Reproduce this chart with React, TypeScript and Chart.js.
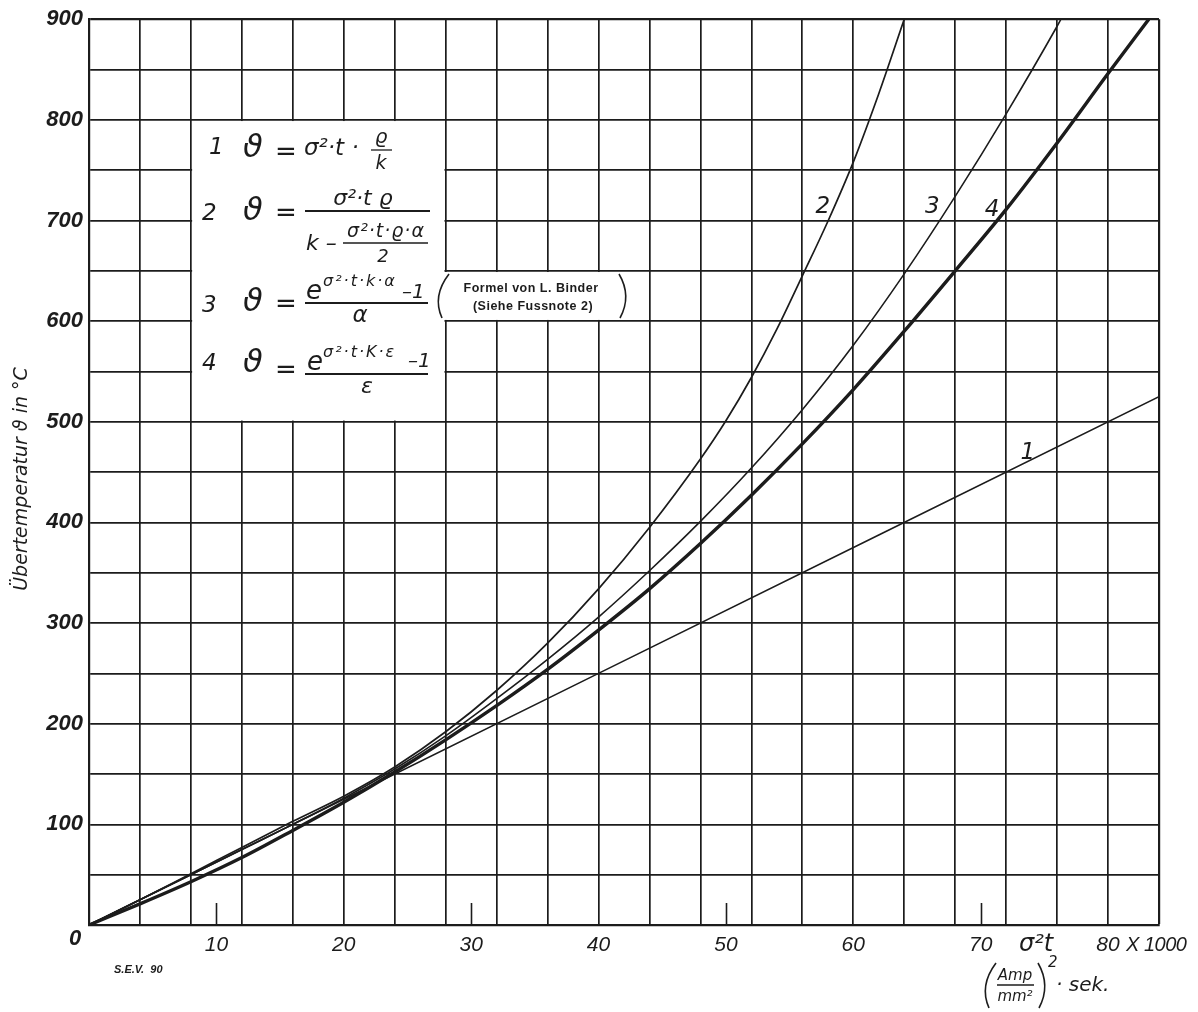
import React, { useEffect, useRef } from 'react';
import { Chart, registerables } from 'chart.js';

Chart.register(...registerables);

// ---- data (x in 1000 (A/mm²)²·s, y in °C) ----
const curve1X = [0, 40, 84];
const curve1Y = [0, 250, 525];

const curve2X = [0, 4, 8, 12, 16, 20, 24, 28, 32, 36, 40, 44, 48, 50, 52, 54, 56, 58, 60, 62, 64];
const curve2Y = [0, 25, 51, 77, 103, 128, 157, 192, 233, 280, 334, 395, 463, 501, 544, 592, 645, 699, 758, 826, 900];

const curve3X = [0, 4, 8, 12, 16, 20, 24, 28, 32, 36, 40, 44, 48, 52, 56, 60, 64, 68, 72, 76, 76.3];
const curve3Y = [0, 25, 50, 75, 100, 126, 155, 188, 225, 264, 306, 352, 401, 454, 512, 576, 647, 724, 806, 893, 900];

const curve4X = [0, 4, 8, 12, 16, 20, 24, 28, 32, 36, 40, 44, 48, 52, 56, 60, 64, 68, 72, 76, 80, 83.2];
const curve4Y = [0, 21, 43, 67, 94, 122, 152, 184, 218, 254, 293, 334, 379, 427, 478, 532, 590, 650, 711, 777, 846, 900];

const curveLabels = ['1', '2', '3', '4'];
const curveLabelX = [73.7, 57.6, 66.2, 70.9];
const curveLabelY = [473, 717, 717, 714];

const xMin = 0;
const xMax = 84;
const xGridStep = 4;
const xTickLabels = [10, 20, 30, 40, 50, 60, 70, 80];
const yMin = 0;
const yMax = 900;
const yGridStep = 50;
const yTickLabels = [100, 200, 300, 400, 500, 600, 700, 800, 900];

const INK = '#1c1c1c';
const SANS = '"Liberation Sans", Arial, sans-serif';
const DJ = '"DejaVu Sans", sans-serif';

const toPts = (xs: number[], ys: number[]) => xs.map((x, i) => ({ x, y: ys[i] }));

function txt(ctx: CanvasRenderingContext2D, s: string, x: number, y: number, font: string, align: CanvasTextAlign = 'left', spacing = 0) {
  ctx.font = font;
  ctx.textAlign = align;
  ctx.textBaseline = 'alphabetic';
  (ctx as any).letterSpacing = spacing + 'px';
  ctx.fillText(s, x, y);
  (ctx as any).letterSpacing = '0px';
}

function hline(ctx: CanvasRenderingContext2D, x1: number, x2: number, y: number, w = 1.6) {
  ctx.beginPath();
  ctx.lineWidth = w;
  ctx.moveTo(x1, y);
  ctx.lineTo(x2, y);
  ctx.stroke();
}

function paren(ctx: CanvasRenderingContext2D, x: number, top: number, bottom: number, dir: number, w = 1.6) {
  // dir = -1 for "(" , +1 for ")"
  ctx.beginPath();
  ctx.lineWidth = w;
  ctx.moveTo(x + 3 * dir * -1 + (dir > 0 ? 0 : 6), top);
  ctx.quadraticCurveTo(x + 7 * dir + (dir > 0 ? 3 : -1), (top + bottom) / 2, x + (dir > 0 ? -2 : 2), bottom);
  ctx.stroke();
}

const overlayPlugin = {
  id: 'overlay',
  beforeDatasetsDraw(chart: any) {
    const ctx = chart.ctx as CanvasRenderingContext2D;
    const xs = chart.scales.x;
    const ys = chart.scales.y;
    ctx.save();
    ctx.fillStyle = '#ffffff';
    // formula box (grid removed inside)
    const l = xs.getPixelForValue(8) + 1.2;
    const r = xs.getPixelForValue(28) - 1.2;
    const t = ys.getPixelForValue(800) + 1.2;
    const b = ys.getPixelForValue(500) - 1.2;
    ctx.fillRect(l, t, r - l, b - t);
    // band for the Binder note
    const l2 = xs.getPixelForValue(28) - 1.5;
    const r2 = xs.getPixelForValue(44) - 1.5;
    const t2 = ys.getPixelForValue(650) + 1.2;
    const b2 = ys.getPixelForValue(600) - 1.2;
    ctx.fillRect(l2, t2, r2 - l2, b2 - t2);
    ctx.restore();
  },
  afterDatasetsDraw(chart: any) {
    const ctx = chart.ctx as CanvasRenderingContext2D;
    const xs = chart.scales.x;
    const ys = chart.scales.y;
    const area = chart.chartArea;
    ctx.save();
    ctx.strokeStyle = INK;
    ctx.fillStyle = INK;
    // inner ticks at labelled values not on the grid
    xTickLabels.forEach((v) => {
      if (v % xGridStep !== 0) {
        const px = Math.round(xs.getPixelForValue(v)) + 0.5;
        ctx.beginPath();
        ctx.lineWidth = 1.6;
        ctx.moveTo(px, area.bottom - 22);
        ctx.lineTo(px, area.bottom);
        ctx.stroke();
      }
    });
    // curve numbers
    curveLabels.forEach((s, i) => {
      txt(ctx, s, xs.getPixelForValue(curveLabelX[i]), ys.getPixelForValue(curveLabelY[i]) + 10, `italic 23px ${DJ}`, 'center');
    });

    // ---- formulas ----
    const num = `italic 23px ${DJ}`;
    const theta = `italic 32px ${DJ}`;
    const eq = `26px ${DJ}`;
    // row 1
    txt(ctx, '1', 209, 154, num);
    txt(ctx, 'ϑ', 243, 157, theta);
    txt(ctx, '=', 275, 160, eq);
    txt(ctx, 'σ²·t ·', 304, 155, `italic 23px ${DJ}`);
    txt(ctx, 'ϱ', 381, 143, `italic 20px ${DJ}`, 'center');
    hline(ctx, 371, 392, 150, 1.3);
    txt(ctx, 'k', 381, 169, `italic 19px ${DJ}`, 'center');
    // row 2
    txt(ctx, '2', 202, 220, num);
    txt(ctx, 'ϑ', 243, 220, theta);
    txt(ctx, '=', 275, 221, eq);
    txt(ctx, 'σ²·t ϱ', 363, 205, `italic 22px ${DJ}`, 'center');
    hline(ctx, 305, 430, 211, 1.8);
    txt(ctx, 'k –', 306, 250, `italic 22px ${DJ}`);
    txt(ctx, 'σ²·t·ϱ·α', 386, 237, `italic 19px ${DJ}`, 'center', 1);
    hline(ctx, 343, 428, 243, 1.5);
    txt(ctx, '2', 383, 262, `italic 18px ${DJ}`, 'center');
    // row 3
    txt(ctx, '3', 202, 312, num);
    txt(ctx, 'ϑ', 243, 311, theta);
    txt(ctx, '=', 275, 312, eq);
    txt(ctx, 'e', 306, 299, `italic 26px ${DJ}`);
    txt(ctx, 'σ²·t·k·α', 323, 286, `italic 16px ${DJ}`, 'left', 2);
    txt(ctx, '–1', 402, 298, `italic 20px ${DJ}`);
    hline(ctx, 305, 428, 303, 1.8);
    txt(ctx, 'α', 360, 322, `italic 23px ${DJ}`, 'center');
    // Binder note
    paren(ctx, 440, 274, 318, -1);
    paren(ctx, 622, 274, 318, 1);
    txt(ctx, 'Formel von L. Binder', 531, 292, `bold 12.5px ${SANS}`, 'center', 0.5);
    txt(ctx, '(Siehe Fussnote 2)', 533, 310, `bold 12.5px ${SANS}`, 'center', 0.5);
    // row 4
    txt(ctx, '4', 202, 370, num);
    txt(ctx, 'ϑ', 243, 372, theta);
    txt(ctx, '=', 275, 378, eq);
    txt(ctx, 'e', 307, 370, `italic 26px ${DJ}`);
    txt(ctx, 'σ²·t·K·ε', 323, 357, `italic 16px ${DJ}`, 'left', 2);
    txt(ctx, '–1', 408, 367, `italic 20px ${DJ}`);
    hline(ctx, 305, 428, 374, 1.8);
    txt(ctx, 'ε', 367, 393, `italic 22px ${DJ}`, 'center');

    // ---- axis extras ----
    txt(ctx, '0', area.left - 14, area.bottom + 20, `bold italic 22px ${SANS}`, 'center');
    txt(ctx, 'σ²t', 1019, 951, `italic 24px ${DJ}`);
    txt(ctx, 'X 1000', 1126, 951, `italic 20px ${SANS}`, 'left', -0.5);
    // units (Amp/mm²)² · sek.
    paren(ctx, 987, 963, 1008, -1);
    txt(ctx, 'Amp', 1015, 980, `italic 15px ${DJ}`, 'center');
    hline(ctx, 997, 1034, 985, 1.3);
    txt(ctx, 'mm²', 1015, 1001, `italic 15px ${DJ}`, 'center');
    paren(ctx, 1041, 963, 1008, 1);
    txt(ctx, '2', 1048, 967, `italic 15px ${DJ}`);
    txt(ctx, '· sek.', 1056, 991, `italic 20px ${DJ}`);
    // S.E.V. 90
    txt(ctx, 'S.E.V.  90', 114, 973, `bold italic 11px ${SANS}`);
    // y axis title
    ctx.save();
    ctx.translate(20, 479);
    ctx.rotate(-Math.PI / 2);
    txt(ctx, 'Übertemperatur ϑ in °C', 0, 7, `italic 19px ${DJ}`, 'center');
    ctx.restore();
    ctx.restore();
  },
};

export default function App() {
  const ref = useRef<HTMLCanvasElement | null>(null);
  useEffect(() => {
    document.body.style.margin = '0';
    document.body.style.overflow = 'hidden';
    const canvas = ref.current;
    if (!canvas) return;
    const line = (label: string, xs: number[], ys: number[], w: number) => ({
      label,
      data: toPts(xs, ys),
      showLine: true,
      borderColor: INK,
      backgroundColor: INK,
      borderWidth: w,
      pointRadius: 0,
      fill: false,
      cubicInterpolationMode: 'monotone' as const,
    });
    const chart = new Chart(canvas, {
      type: 'scatter',
      data: {
        datasets: [
          line('1', curve1X, curve1Y, 1.6),
          line('2', curve2X, curve2Y, 1.7),
          line('3', curve3X, curve3Y, 1.6),
          line('4', curve4X, curve4Y, 3.4),
        ],
      },
      options: {
        responsive: false,
        animation: false,
        events: [],
        layout: { padding: { top: 15, right: 39, left: 0, bottom: 0 } },
        plugins: { legend: { display: false }, tooltip: { enabled: false } },
        scales: {
          x: {
            type: 'linear',
            min: xMin,
            max: xMax,
            afterBuildTicks: (scale: any) => {
              const vals = new Set<number>();
              for (let v = xMin; v <= xMax; v += xGridStep) vals.add(v);
              xTickLabels.forEach((v) => vals.add(v));
              scale.ticks = Array.from(vals).sort((a, b) => a - b).map((value) => ({ value }));
            },
            afterFit: (scale: any) => { scale.height = 87; },
            grid: {
              color: (c: any) => (c.tick && c.tick.value % xGridStep === 0 ? INK : 'rgba(0,0,0,0)'),
              lineWidth: (c: any) => (c.tick && (c.tick.value === xMax) ? 2.2 : 1.7),
              drawTicks: false,
            },
            border: { display: true, color: INK, width: 2.2 },
            ticks: {
              autoSkip: false,
              maxRotation: 0,
              padding: 8,
              color: INK,
              font: { family: SANS, size: 21, style: 'italic' },
              callback: (v: any) => (xTickLabels.includes(Number(v)) ? String(v) : ''),
            },
          },
          y: {
            type: 'linear',
            min: yMin,
            max: yMax,
            ticks: {
              stepSize: yGridStep,
              autoSkip: false,
              padding: 6,
              color: INK,
              font: { family: SANS, size: 22, style: 'italic', weight: 'bold' },
              callback: (v: any) => (yTickLabels.includes(Number(v)) ? String(v) : ''),
            },
            afterFit: (scale: any) => { scale.width = 89; },
            grid: {
              color: INK,
              lineWidth: (c: any) => (c.tick && c.tick.value === yMax ? 2.2 : 1.7),
              drawTicks: false,
            },
            border: { display: true, color: INK, width: 2.2 },
          },
        },
      },
      plugins: [overlayPlugin],
    });
    return () => chart.destroy();
  }, []);
  return (
    <div style={{ width: 1198, height: 1012, background: '#fff' }}>
      <canvas ref={ref} width={1198} height={1012} style={{ display: 'block' }} />
    </div>
  );
}
